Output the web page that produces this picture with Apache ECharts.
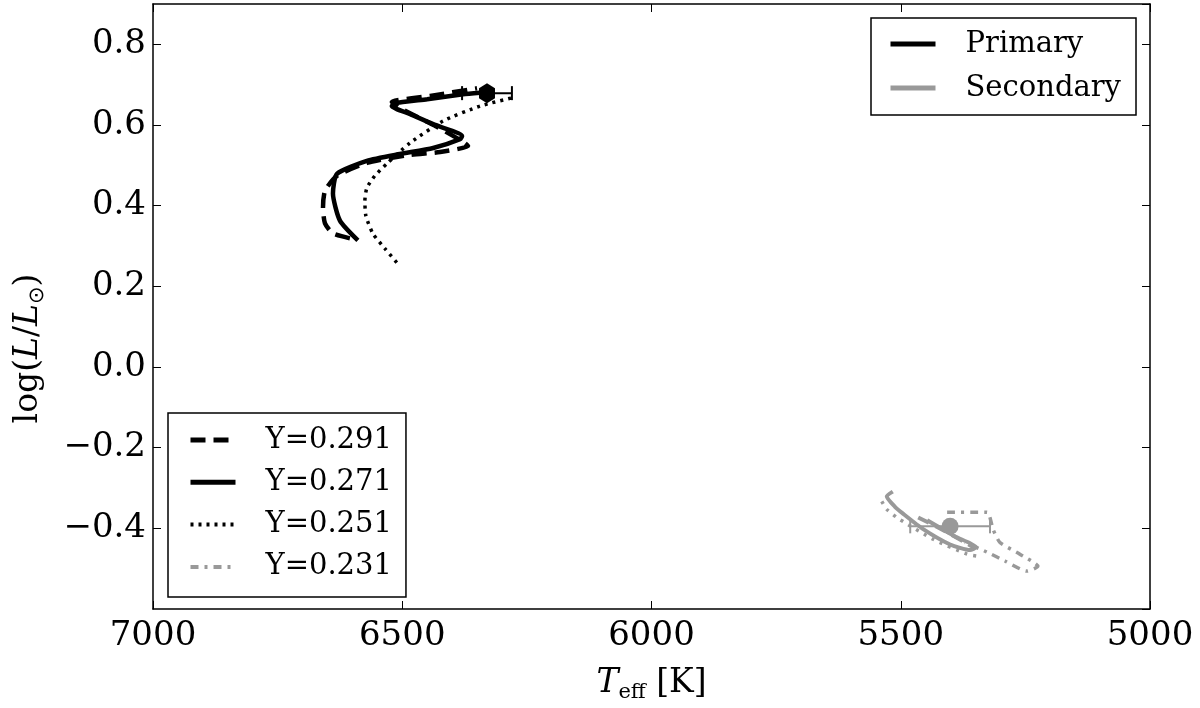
<!DOCTYPE html>
<html>
<head>
<meta charset="utf-8">
<script src="https://cdn.jsdelivr.net/npm/echarts@6/dist/echarts.min.js"></script>
<style>html,body{margin:0;padding:0;background:#fff}#c{width:1200px;height:708px}</style>
</head>
<body>
<div id="c"></div>
<script>
// ---- Data (Teff [K], log L/Lsun) ----
const xTicks = [7000, 6500, 6000, 5500, 5000];
const yTicks = [-0.4, -0.2, 0.0, 0.2, 0.4, 0.6, 0.8];

// Primary tracks
const primY291 = [[6605,0.319],[6639,0.331],[6655,0.356],[6659,0.395],[6655,0.437],[6631,0.474],[6571,0.506],[6484,0.526],[6424,0.533],[6368,0.548],[6380,0.560],[6434,0.598],[6505,0.642],[6521,0.657],[6444,0.672],[6350,0.691]];
const primY271 = [[6589,0.314],[6625,0.363],[6639,0.430],[6631,0.479],[6571,0.511],[6505,0.528],[6438,0.543],[6384,0.565],[6380,0.573],[6438,0.602],[6484,0.627],[6521,0.647],[6515,0.654],[6450,0.664],[6378,0.676],[6344,0.680]];
const primY251 = [[6511,0.259],[6535,0.294],[6559,0.331],[6573,0.375],[6575,0.412],[6571,0.444],[6555,0.474],[6531,0.504],[6484,0.556],[6418,0.610],[6344,0.647],[6274,0.669]];

// Secondary tracks
const secY291 = [[5465,-0.373],[5411,-0.407],[5371,-0.435],[5351,-0.449]];
const secY271 = [[5516,-0.309],[5528,-0.321],[5512,-0.346],[5496,-0.363],[5455,-0.402],[5401,-0.440],[5361,-0.454],[5349,-0.447],[5391,-0.420],[5447,-0.380]];
const secY251 = [[5538,-0.333],[5528,-0.353],[5502,-0.378],[5435,-0.427],[5367,-0.464],[5345,-0.469]];
const secY231 = [[5407,-0.360],[5327,-0.360],[5315,-0.402],[5301,-0.435],[5261,-0.464],[5225,-0.494],[5247,-0.506],[5291,-0.481],[5327,-0.459],[5371,-0.435]];

// Observed stars: [Teff, logL, Teff error]
const primaryObs = [[6330, 0.679, 50]];
const secondaryObs = [[5401, -0.395, 80]];

const BLACK = '#000000';
const GRAY = '#999999';
const FONT = 'DejaVu Serif';

function fmtY(v){
  if (Math.abs(v) < 1e-9) return '0.0';
  return (v < 0 ? '\u2212' : '') + Math.abs(v).toFixed(1);
}

function errRender(color){
  return function(params, api){
    const t = api.value(0), l = api.value(1), e = api.value(2);
    const p1 = api.coord([t - e, l]);
    const p2 = api.coord([t + e, l]);
    const cap = 7;
    const st = {stroke: color, lineWidth: 2};
    return {type:'group', children:[
      {type:'line', shape:{x1:p1[0], y1:p1[1], x2:p2[0], y2:p2[1]}, style: st},
      {type:'line', shape:{x1:p1[0], y1:p1[1]-cap, x2:p1[0], y2:p1[1]+cap}, style: st},
      {type:'line', shape:{x1:p2[0], y1:p2[1]-cap, x2:p2[0], y2:p2[1]+cap}, style: st}
    ]};
  };
}

function track(name, data, color, width, type){
  return {
    name: name, type: 'line', data: data, symbol: 'none', smooth: 0.2,
    lineStyle: {color: color, width: width, type: type, cap: 'butt'},
    itemStyle: {color: color}, z: 3, silent: true
  };
}

function legItem(name, width){
  return {name: name, itemStyle: {opacity: 0}, lineStyle: {width: width}};
}

const hexPath = 'path://M0,-10 L8.66,-5 L8.66,5 L0,10 L-8.66,5 L-8.66,-5 Z';

const axisCommon = {
  type: 'value',
  splitLine: {show: false},
  axisLine: {show: true, onZero: false, lineStyle: {color: BLACK, width: 1.5}},
  axisTick: {show: true, inside: true, length: 8, lineStyle: {color: BLACK, width: 1}}
};

const richName = {
  i: {fontFamily: FONT, fontStyle: 'italic', fontSize: 33, lineHeight: 40, color: BLACK},
  s: {fontFamily: FONT, fontSize: 21, lineHeight: 22, verticalAlign: 'bottom', color: BLACK},
  o: {fontFamily: 'DejaVu Sans', fontSize: 21, lineHeight: 22, verticalAlign: 'bottom', color: BLACK},
  n: {fontFamily: FONT, fontSize: 33, lineHeight: 40, color: BLACK}
};

const legendText = {fontFamily: FONT, fontSize: 29, color: BLACK, lineHeight: 30};

const option = {
  animation: false,
  backgroundColor: '#ffffff',
  grid: {left: 153, right: 50, top: 4, bottom: 99, containLabel: false},
  xAxis: [
    Object.assign({}, axisCommon, {
      min: 5000, max: 7000, interval: 500, inverse: true, position: 'bottom',
      axisLabel: {show: true, margin: 10, color: BLACK, fontFamily: FONT, fontSize: 34,
        formatter: v => String(v)},
      name: '{i|T}{s|eff}{n| [K]}', nameLocation: 'middle', nameGap: 54,
      nameTextStyle: {color: BLACK, fontFamily: FONT, rich: richName}
    }),
    Object.assign({}, axisCommon, {
      min: 5000, max: 7000, interval: 500, inverse: true, position: 'top',
      axisLabel: {show: false}
    })
  ],
  yAxis: [
    Object.assign({}, axisCommon, {
      min: -0.6, max: 0.9, interval: 0.2, position: 'left',
      axisLabel: {show: true, margin: 7, color: BLACK, fontFamily: FONT, fontSize: 34,
        showMinLabel: false, showMaxLabel: false, formatter: fmtY},
      name: '{n|log(}{i|L}{n|/}{i|L}{o|\u2299}{n|)}', nameLocation: 'middle', nameGap: 105,
      nameTextStyle: {color: BLACK, fontFamily: FONT, padding: [0, 84, 0, 0], rich: richName}
    }),
    Object.assign({}, axisCommon, {
      min: -0.6, max: 0.9, interval: 0.2, position: 'right',
      axisLabel: {show: false}
    })
  ],
  legend: [
    {
      data: [legItem('Primary', 5), legItem('Secondary', 5)],
      orient: 'vertical', left: 871, top: 18,
      selectedMode: false,
      borderColor: BLACK, borderWidth: 1.5, borderRadius: 0,
      padding: [11, 15, 12, 17],
      itemWidth: 45, itemHeight: 14, itemGap: 14,
      itemStyle: {opacity: 0},
      textStyle: Object.assign({padding: [0, 0, 0, 25]}, legendText)
    },
    {
      data: [legItem('Y=0.291', 5), legItem('Y=0.271', 5), legItem('Y=0.251', 4), legItem('Y=0.231', 4)],
      orient: 'vertical', left: 168, top: 413,
      selectedMode: false,
      borderColor: BLACK, borderWidth: 1.5, borderRadius: 0,
      padding: [12, 14, 15, 20],
      itemWidth: 45, itemHeight: 14, itemGap: 12.3,
      itemStyle: {opacity: 0},
      textStyle: Object.assign({padding: [0, 0, 0, 25]}, legendText)
    }
  ],
  series: [
    track('Primary', [], BLACK, 4.5, 'solid'),
    track('Secondary', [], GRAY, 4.5, 'solid'),
    {type: 'custom', name: 'errP', data: primaryObs, renderItem: errRender(BLACK), z: 2, silent: true},
    {type: 'custom', name: 'errS', data: secondaryObs, renderItem: errRender(GRAY), z: 2, silent: true},
    track('Y=0.291', primY291, BLACK, 4.5, [15, 8]),
    track('Y=0.271', primY271, BLACK, 4.5, 'solid'),
    track('Y=0.251', primY251, BLACK, 3.5, [3, 5]),
    track('sec 0.291', secY291, GRAY, 4, [12, 7]),
    track('sec 0.271', secY271, GRAY, 4, 'solid'),
    track('sec 0.251', secY251, GRAY, 3.5, [3, 6]),
    track('Y=0.231', secY231, GRAY, 3.5, [8, 6, 3, 6]),
    {type: 'scatter', name: 'obsP', data: primaryObs.map(d => [d[0], d[1]]), symbol: hexPath, symbolSize: [16, 20],
      itemStyle: {color: BLACK, opacity: 1}, z: 6, silent: true},
    {type: 'scatter', name: 'obsS', data: secondaryObs.map(d => [d[0], d[1]]), symbol: 'circle', symbolSize: 17,
      itemStyle: {color: GRAY, opacity: 1}, z: 6, silent: true}
  ]
};

const chart = echarts.init(document.getElementById('c'), null, {renderer: 'canvas'});
chart.setOption(option);
</script>
</body>
</html>
